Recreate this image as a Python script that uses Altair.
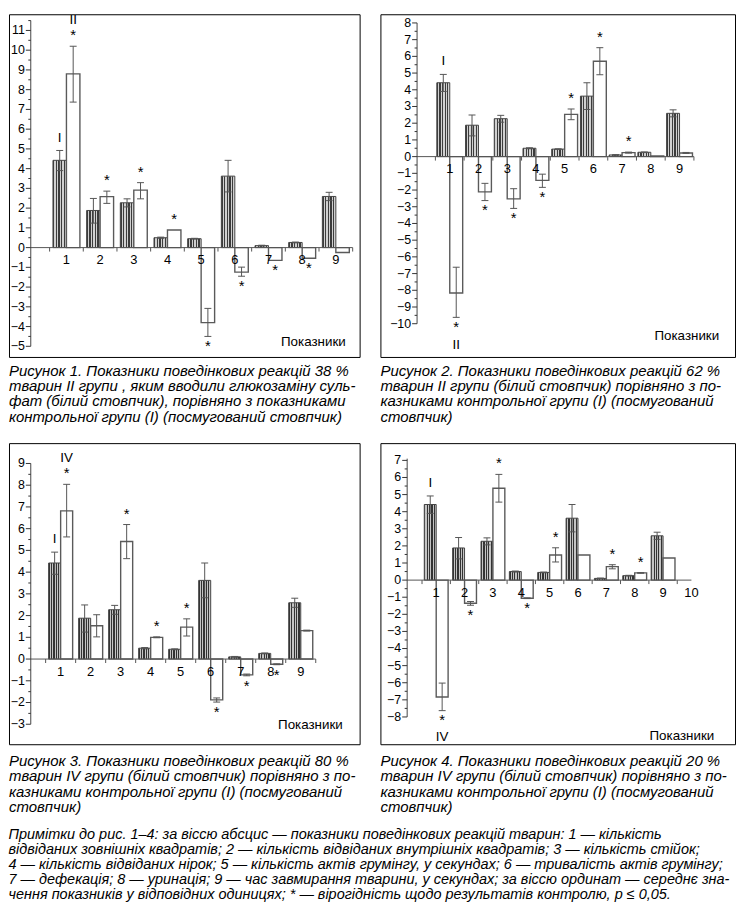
import altair as alt
import pandas as pd

GROUPS = [1, 2, 3, 4, 5, 6, 7, 8, 9]

# control group (I), hatched bars
CTRL = [4.42, 1.88, 2.27, 0.50, 0.45, 3.62, 0.10, 0.26, 2.59]
CTRL_LO = [3.90, 1.24, 2.06, 0.47, 0.43, 2.82, 0.08, 0.24, 2.38]
CTRL_HI = [4.92, 2.49, 2.47, 0.53, 0.47, 4.42, 0.12, 0.28, 2.80]

# Figure 1: group II, 38 %
F1_VAL = [8.80, 2.58, 2.91, 0.89, -3.80, -1.24, -0.65, -0.54, -0.25]
F1_LO = [7.37, 2.24, 2.47, None, -4.50, -1.45, None, None, None]
F1_HI = [10.20, 2.86, 3.29, None, -3.08, -0.99, None, None, None]
F1_STARS = [1, 2, 3, 4, 5, 6, 7, 8]

# Figure 2: group II, 62 %
F2_VAL = [-8.16, -2.11, -2.53, -1.42, 2.53, 5.71, 0.24, 0.04, 0.22]
F2_LO = [-9.62, -2.63, -3.10, -1.84, 2.21, 4.90, 0.21, None, 0.19]
F2_HI = [-6.62, -1.60, -1.92, -1.05, 2.85, 6.52, 0.27, None, 0.25]
F2_STARS = [1, 2, 3, 4, 5, 6, 7]

# Figure 3: group IV, 80 %
F3_VAL = [6.82, 1.53, 5.41, 1.00, 1.47, -1.88, -0.73, -0.24, 1.31]
F3_LO = [5.62, 1.02, 4.62, 0.98, 1.06, -1.98, -0.77, -0.26, 1.29]
F3_HI = [8.04, 2.04, 6.19, 1.02, 1.85, -1.79, -0.69, -0.22, 1.33]
F3_STARS = [1, 3, 4, 5, 6, 7, 8]

# Figure 4: group IV, 20 %
F4_VAL = [-6.83, -1.35, 5.37, -1.06, 1.47, 1.47, 0.79, 0.42, 1.29]
F4_LO = [-7.63, -1.47, 4.56, -1.08, 1.06, None, 0.66, 0.40, None]
F4_HI = [-6.02, -1.25, 6.18, -1.04, 1.89, None, 0.90, 0.44, None]
F4_STARS = [1, 2, 3, 4, 5, 7, 8]

# y tick values per figure
Y1_TICKS = list(range(-5, 12))
Y2_TICKS = list(range(-10, 9))
Y3_TICKS = list(range(-3, 10))
Y4_TICKS = list(range(-8, 8))

CAP1 = ["Рисунок 1. Показники поведінкових реакцій 38 %",
        "тварин II групи , яким вводили глюкозаміну суль-",
        "фат (білий стовпчик), порівняно з показниками",
        "контрольної групи (I) (посмугований стовпчик)"]
CAP2 = ["Рисунок 2. Показники поведінкових реакцій 62 %",
        "тварин II групи (білий стовпчик) порівняно з по-",
        "казниками контрольної групи (I) (посмугований",
        "стовпчик)"]
CAP3 = ["Рисунок 3. Показники поведінкових реакцій 80 %",
        "тварин IV групи (білий стовпчик) порівняно з по-",
        "казниками контрольної групи (I) (посмугований",
        "стовпчик)"]
CAP4 = ["Рисунок 4. Показники поведінкових реакцій 20 %",
        "тварин IV групи (білий стовпчик) порівняно з по-",
        "казниками контрольної групи (I) (посмугований",
        "стовпчик)"]
NOTES = ["Примітки до рис. 1–4: за віссю абсцис — показники поведінкових реакцій тварин: 1 — кількість",
         "відвіданих зовнішніх квадратів; 2 — кількість відвіданих внутрішніх квадратів; 3 — кількість стійок;",
         "4 — кількість відвіданих нірок; 5 — кількість актів грумінгу, у секундах; 6 — тривалість актів грумінгу;",
         "7 — дефекація; 8 — уринація; 9 — час завмирання тварини, у секундах; за віссю ординат — середнє зна-",
         "чення показників у відповідних одиницях; * — вірогідність щодо результатів контролю, p ≤ 0,05."]

AX_FONT = "Liberation Sans, Arial, sans-serif"
CAP_FONT = "Liberation Sans, Arial, sans-serif"
CAP_SIZE = 15.1
NOTE_SIZE = 14.6


def hatch(n, frac, dark, light):
    stops = []
    for i in range(n):
        a, b, c = i / n, (i + frac) / n, (i + 1) / n
        stops += [alt.GradientStop(offset=a, color=dark), alt.GradientStop(offset=b, color=dark),
                  alt.GradientStop(offset=b, color=light), alt.GradientStop(offset=c, color=light)]
    return alt.LinearGradient(gradient="linear", stops=stops, x1=0, x2=1, y1=0, y2=0)


def make_panel(p):
    W, H = p["W"], p["H"]
    xd, yd = p["xdom"], p["ydom"]
    xs = alt.Scale(domain=xd, nice=False, zero=False)
    ys = alt.Scale(domain=yd, nice=False, zero=False)
    ax_g = p["axis_g"]
    bw = p["bw"]

    rows = []
    for i, g in enumerate(GROUPS):
        rows.append(dict(g=g, s="ctrl", v=CTRL[i], lo=CTRL_LO[i], hi=CTRL_HI[i],
                         star=False, lab="I" if g == 1 else None))
        rows.append(dict(g=g, s="trt", v=p["val"][i], lo=p["lo"][i], hi=p["hi"][i],
                         star=g in p["stars"], lab=p["roman"] if g == 1 else None))
    df = pd.DataFrame(rows)

    base = alt.Chart(df).transform_calculate(
        x0=f"datum.s == 'ctrl' ? datum.g - {bw} : datum.g"
    ).transform_calculate(
        x1=f"datum.x0 + {bw}", xc=f"datum.x0 + {bw} / 2",
        e="datum.v >= 0 ? (isValid(datum.hi) ? datum.hi : datum.v) : (isValid(datum.lo) ? datum.lo : datum.v)"
    )

    ctrl = base.transform_filter("datum.s == 'ctrl'").mark_bar(
        fill=p["hatch"], stroke="#444", strokeWidth=1
    ).encode(x=alt.X("x0:Q", scale=xs, axis=None), x2="x1:Q",
             y=alt.Y("v:Q", scale=ys, axis=None), y2=alt.datum(0))
    trt = base.transform_filter("datum.s == 'trt'").mark_bar(
        fill="white", stroke="#5a5a5a", strokeWidth=1.4
    ).encode(x=alt.X("x0:Q", scale=xs, axis=None), x2="x1:Q",
             y=alt.Y("v:Q", scale=ys, axis=None), y2=alt.datum(0))

    one = alt.Chart(pd.DataFrame({"k": [0]}))
    zero_line = one.mark_rule(color="#555", strokeWidth=1).encode(
        x=alt.datum(ax_g), x2=alt.datum(p["zend"]), y=alt.datum(0))
    yline = one.mark_rule(color="#444", strokeWidth=1).encode(
        x=alt.datum(ax_g), y=alt.datum(p["yline"][0]), y2=alt.datum(p["yline"][1]))

    yt = p["yticks"]
    ytdf = pd.DataFrame({"t": yt, "lab": [str(t).replace("-", "\u2212") for t in yt]})
    major_ticks = alt.Chart(ytdf).mark_rule(color="#333", strokeWidth=1, x2Offset=-5).encode(
        x=alt.datum(ax_g), x2=alt.datum(ax_g), y="t:Q")
    ylabels = alt.Chart(ytdf).mark_text(
        align="right", baseline="middle", dx=-6, font=AX_FONT, fontSize=12.5, color="black"
    ).encode(x=alt.datum(ax_g), y="t:Q", text="lab:N")

    minors = [m + 0.5 for m in yt[:-1]] + p.get("extra_minor", [])
    minor_ticks = alt.Chart(pd.DataFrame({"m": minors})).mark_rule(
        color="#333", strokeWidth=1, x2Offset=-2.5
    ).encode(x=alt.datum(ax_g), x2=alt.datum(ax_g), y="m:Q")

    bounds = [g - 0.5 for g in GROUPS] + [GROUPS[-1] + 0.5]
    xticks = alt.Chart(pd.DataFrame({"b": bounds})).mark_rule(
        color="#555", strokeWidth=1, y2Offset=4
    ).encode(x="b:Q", y=alt.datum(0), y2=alt.datum(0))

    err = base.transform_filter("isValid(datum.lo)")
    err_rule = err.mark_rule(color="#555", strokeWidth=1).encode(x="xc:Q", y="lo:Q", y2="hi:Q")
    caps = err.transform_fold(["lo", "hi"], as_=["k", "ev"]).mark_rule(
        color="#555", strokeWidth=1, xOffset=-3.5, x2Offset=3.5
    ).encode(x="xc:Q", x2="xc:Q", y="ev:Q")

    cats = alt.Chart(pd.DataFrame({"c": p["cats"]})).mark_text(
        dy=13, baseline="middle", align="center", font=AX_FONT, fontSize=13, color="black"
    ).encode(x="c:Q", y=alt.datum(0), text="c:N")

    stars = base.transform_filter("datum.star")
    star_up = stars.transform_filter("datum.v >= 0").mark_text(
        text="*", dy=-11, baseline="middle", font=AX_FONT, fontSize=15, color="black"
    ).encode(x="xc:Q", y="e:Q")
    star_dn = stars.transform_filter("datum.v < 0").mark_text(
        text="*", dy=10, baseline="middle", font=AX_FONT, fontSize=15, color="black"
    ).encode(x="xc:Q", y="e:Q")

    labs = base.transform_filter("isValid(datum.lab)")
    lab_c = labs.transform_filter("datum.s == 'ctrl'").mark_text(
        dy=-13, baseline="middle", font=AX_FONT, fontSize=13.5, color="black"
    ).encode(x="xc:Q", y="e:Q", text="lab:N")
    lab_t = labs.transform_filter("datum.s == 'trt'").mark_text(
        dy=p["roman_dy"], baseline="middle", font=AX_FONT, fontSize=13.5, color="black"
    ).encode(x="xc:Q", y="e:Q", text="lab:N")

    pok = one.mark_text(text="Показники", align="right", baseline="middle",
                        font=AX_FONT, fontSize=13.5, color="black").encode(
        x=alt.value(W - p["pok"][0]), y=alt.value(H - p["pok"][1]))

    layer = alt.layer(ctrl, trt, zero_line, xticks, yline, major_ticks, minor_ticks, ylabels,
                      err_rule, caps, cats, star_up, star_dn, lab_c, lab_t, pok)
    return layer.properties(
        width=W, height=H,
        title=alt.TitleParams(text=p["cap"], orient="bottom", anchor="start", frame="group",
                              offset=p["cap_off"], font=CAP_FONT, fontSize=CAP_SIZE,
                              fontStyle="italic", fontWeight="normal", color="black",
                              lineHeight=15.5, baseline="top"))


H12 = hatch(5, 0.45, "#3c3c3c", "#d0d0d0")
H34 = hatch(5, 0.5, "#333333", "#c4c4c4")

P1 = dict(W=354, H=346, xdom=[-0.706, 9.706], ydom=[-5.54, 11.82], axis_g=-0.059, bw=0.4,
          yticks=Y1_TICKS, yline=[-5, 11.5], extra_minor=[11.5], zend=9.5, cats=GROUPS,
          val=F1_VAL, lo=F1_LO, hi=F1_HI, stars=F1_STARS, roman="II", roman_dy=-26,
          hatch=H12, pok=[14, 15], cap=CAP1, cap_off=7)
P2 = dict(W=358, H=346, xdom=[-1.414, 10.931], ydom=[-11.99, 8.52], axis_g=-0.138, bw=0.45,
          yticks=Y2_TICKS, yline=[-10, 8], zend=9.5, cats=GROUPS,
          val=F2_VAL, lo=F2_LO, hi=F2_HI, stars=F2_STARS, roman="II", roman_dy=28,
          hatch=H12, pok=[16, 21], cap=CAP2, cap_off=7)
P3 = dict(W=354, H=304, xdom=[-0.721, 10.962], ydom=[-3.92, 9.936], axis_g=0.005, bw=0.4,
          yticks=Y3_TICKS, yline=[-3, 9], zend=9.5, cats=GROUPS,
          val=F3_VAL, lo=F3_LO, hi=F3_HI, stars=F3_STARS, roman="IV", roman_dy=-27,
          hatch=H34, pok=[17, 19], cap=CAP3, cap_off=10)
P4 = dict(W=358, H=304, xdom=[-0.967, 11.537], ydom=[-9.595, 8.008], axis_g=-0.024, bw=0.42,
          yticks=Y4_TICKS, yline=[-8, 7.1], zend=10, cats=GROUPS + [10],
          val=F4_VAL, lo=F4_LO, hi=F4_HI, stars=F4_STARS, roman="IV", roman_dy=27,
          hatch=H34, pok=[21, 8], cap=CAP4, cap_off=10)

chart = alt.concat(
    make_panel(P1), make_panel(P2), make_panel(P3), make_panel(P4),
    columns=2, spacing=alt.RowColnumber(row=87, column=21), bounds="flush"
).properties(
    padding=0,
    title=alt.TitleParams(text=NOTES, orient="bottom", anchor="start", offset=12,
                          font=CAP_FONT, fontSize=NOTE_SIZE, fontStyle="italic",
                          fontWeight="normal", color="black", lineHeight=15,
                          baseline="top")
).configure_view(stroke="black", strokeWidth=1)

chart.save("out.html", embed_options={"renderer": "svg", "actions": False})
